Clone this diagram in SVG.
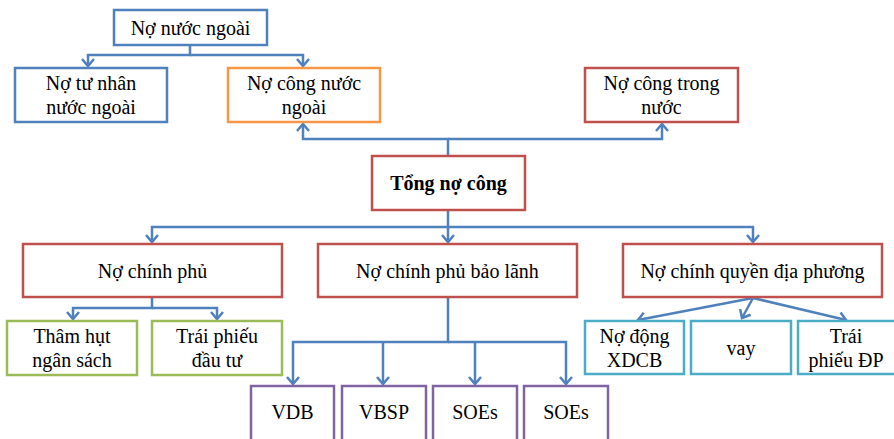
<svg xmlns="http://www.w3.org/2000/svg" width="894" height="439" viewBox="0 0 894 439">
  <style>
    .box { fill: #ffffff; stroke-width: 2.5; }
    .blue { stroke: #4F81BD; }
    .red { stroke: #C0504D; }
    .orange { stroke: #F79646; }
    .green { stroke: #9BBB59; }
    .purple { stroke: #8064A2; }
    .cyan { stroke: #4BACC6; }
    text { font-family: "Liberation Serif", "Times New Roman", serif; font-size: 20px; fill: #000000; text-anchor: middle; }
    .bold { font-weight: bold; }
    .link { fill: none; stroke: #4F81BD; stroke-width: 2.5; stroke-linejoin: miter; }
  </style>
  <defs>
    <marker id="arrow" markerUnits="userSpaceOnUse" viewBox="-8 -8 16 16" refX="0" refY="0" markerWidth="16" markerHeight="16" orient="auto">
      <path d="M-7,-6 L0,0 L-7,6" fill="none" stroke="#4F81BD" stroke-width="2.5"/>
    </marker>
  </defs>

  <rect width="894" height="439" fill="#ffffff"/>

  <!-- connectors -->
  <g id="connectors">
    <!-- foreign debt split -->
    <path class="link" d="M190,45 V55 H88 V66" marker-end="url(#arrow)"/>
    <path class="link" d="M190,55 H303 V66" marker-end="url(#arrow)"/>
    <!-- total public debt up to foreign / domestic public debt -->
    <path class="link" d="M448,156 V139 H303 V124" marker-end="url(#arrow)"/>
    <path class="link" d="M448,139 H662 V124" marker-end="url(#arrow)"/>
    <!-- total public debt down to three branches -->
    <path class="link" d="M448,210 V227 H152 V242" marker-end="url(#arrow)"/>
    <path class="link" d="M448,227 V242" marker-end="url(#arrow)"/>
    <path class="link" d="M448,227 H753 V242" marker-end="url(#arrow)"/>
    <!-- government debt -->
    <path class="link" d="M152,297 V308 H73 V319" marker-end="url(#arrow)"/>
    <path class="link" d="M152,308 H217 V319" marker-end="url(#arrow)"/>
    <!-- guaranteed debt -->
    <path class="link" d="M448,297 V342 H293 V384" marker-end="url(#arrow)"/>
    <path class="link" d="M383,342 V384" marker-end="url(#arrow)"/>
    <path class="link" d="M448,342 H566 V384" marker-end="url(#arrow)"/>
    <path class="link" d="M475,342 V384" marker-end="url(#arrow)"/>
    <!-- local government debt -->
    <path class="link" d="M753,298 L638,320" marker-end="url(#arrow)"/>
    <path class="link" d="M753,298 L742,318" marker-end="url(#arrow)"/>
    <path class="link" d="M753,298 L846,320" marker-end="url(#arrow)"/>
  </g>

  <g id="no-nuoc-ngoai">
    <rect class="box blue" x="114" y="10" width="153" height="35"/>
    <text x="190.5" y="35">Nợ nước ngoài</text>
  </g>
  <g id="no-tu-nhan-nuoc-ngoai">
    <rect class="box blue" x="15" y="68" width="152" height="54"/>
    <text x="91" y="90">Nợ tư nhân</text>
    <text x="91" y="114">nước ngoài</text>
  </g>
  <g id="no-cong-nuoc-ngoai">
    <rect class="box orange" x="228" y="68" width="152" height="54"/>
    <text x="304" y="90">Nợ công nước</text>
    <text x="304" y="114">ngoài</text>
  </g>
  <g id="no-cong-trong-nuoc">
    <rect class="box red" x="585" y="68" width="153" height="54"/>
    <text x="661.5" y="90">Nợ công trong</text>
    <text x="661.5" y="114">nước</text>
  </g>
  <g id="tong-no-cong">
    <rect class="box red" x="372" y="156" width="153" height="54"/>
    <text class="bold" x="448.5" y="190">Tổng nợ công</text>
  </g>
  <g id="no-chinh-phu">
    <rect class="box red" x="23" y="244" width="259" height="53"/>
    <text x="152.5" y="278">Nợ chính phủ</text>
  </g>
  <g id="no-chinh-phu-bao-lanh">
    <rect class="box red" x="318" y="244" width="259" height="53"/>
    <text x="447.5" y="278">Nợ chính phủ bảo lãnh</text>
  </g>
  <g id="no-chinh-quyen-dia-phuong">
    <rect class="box red" x="623" y="244" width="259" height="53"/>
    <text x="752.5" y="278">Nợ chính quyền địa phương</text>
  </g>
  <g id="tham-hut-ngan-sach">
    <rect class="box green" x="7" y="321" width="130" height="54"/>
    <text x="72" y="343">Thâm hụt</text>
    <text x="72" y="367">ngân sách</text>
  </g>
  <g id="trai-phieu-dau-tu">
    <rect class="box green" x="152" y="321" width="130" height="54"/>
    <text x="217" y="343">Trái phiếu</text>
    <text x="217" y="367">đầu tư</text>
  </g>
  <g id="vdb">
    <rect class="box purple" x="251" y="386" width="83" height="56"/>
    <text x="292.5" y="419">VDB</text>
  </g>
  <g id="vbsp">
    <rect class="box purple" x="342" y="386" width="84" height="56"/>
    <text x="384" y="419">VBSP</text>
  </g>
  <g id="soes-1">
    <rect class="box purple" x="433" y="386" width="84" height="56"/>
    <text x="475" y="419">SOEs</text>
  </g>
  <g id="soes-2">
    <rect class="box purple" x="524" y="386" width="84" height="56"/>
    <text x="566" y="419">SOEs</text>
  </g>
  <g id="no-dong-xdcb">
    <rect class="box cyan" x="585" y="321" width="99" height="53"/>
    <text x="634.5" y="343">Nợ động</text>
    <text x="634.5" y="367">XDCB</text>
  </g>
  <g id="vay">
    <rect class="box cyan" x="691" y="321" width="100" height="53"/>
    <text x="741" y="355">vay</text>
  </g>
  <g id="trai-phieu-dp">
    <rect class="box cyan" x="798" y="321" width="100" height="53"/>
    <text x="846" y="343">Trái</text>
    <text x="846" y="367">phiếu ĐP</text>
  </g>
</svg>
